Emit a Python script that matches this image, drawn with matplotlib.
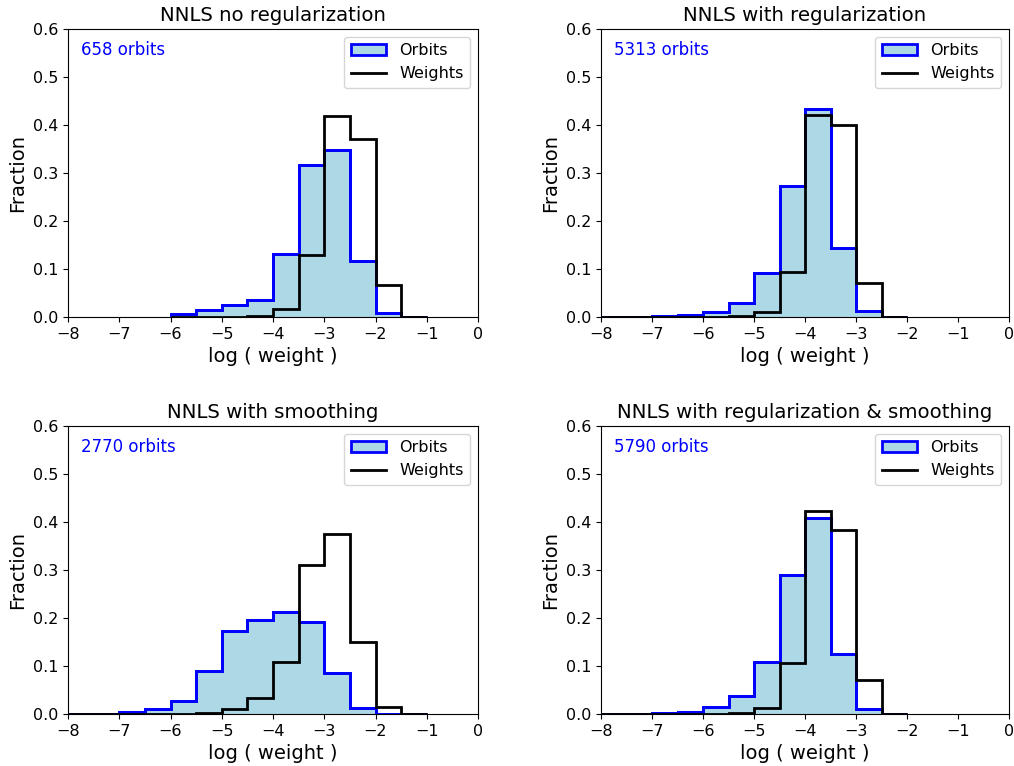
import numpy as np
import matplotlib
matplotlib.use("Agg")
import matplotlib.pyplot as plt

titles = ["NNLS no regularization", "NNLS with regularization",
          "NNLS with smoothing", "NNLS with regularization & smoothing"]
n_orbits = [658, 5313, 2770, 5790]

# bin edges (log weight) per panel
edges1 = np.arange(-6.0, -0.99, 0.5)
edges2 = np.arange(-8.0, -1.99, 0.5)
edges3 = np.arange(-8.0, -0.99, 0.5)
edges4 = np.arange(-8.0, -1.99, 0.5)

# panel 1: bins -6 .. -1
orbits1 = [0.0055, 0.014, 0.024, 0.036, 0.132, 0.316, 0.348, 0.116, 0.0076, 0.0]
weights1 = [0.0, 0.0, 0.0005, 0.003, 0.017, 0.130, 0.418, 0.370, 0.066, 0.0]
# panel 2: bins -8 .. -2
orbits2 = [0.0, 0.0, 0.002, 0.004, 0.011, 0.030, 0.091, 0.273, 0.433, 0.143, 0.012, 0.0]
weights2 = [0.0, 0.0, 0.0, 0.0, 0.0, 0.002, 0.010, 0.093, 0.421, 0.400, 0.071, 0.0]
# panel 3: bins -8 .. -1
orbits3 = [0.0, 0.0, 0.005, 0.011, 0.027, 0.089, 0.173, 0.196, 0.213, 0.192, 0.085, 0.012, 0.001, 0.0]
weights3 = [0.0, 0.0, 0.0, 0.0, 0.0, 0.002, 0.010, 0.033, 0.109, 0.310, 0.375, 0.149, 0.014, 0.0]
# panel 4: bins -8 .. -2
orbits4 = [0.0, 0.0, 0.002, 0.004, 0.015, 0.038, 0.108, 0.290, 0.408, 0.126, 0.010, 0.0]
weights4 = [0.0, 0.0, 0.0, 0.0, 0.0, 0.0015, 0.012, 0.107, 0.422, 0.383, 0.071, 0.0]

edges = [edges1, edges2, edges3, edges4]
orbits = [orbits1, orbits2, orbits3, orbits4]
weights = [weights1, weights2, weights3, weights4]

xticks = [-8, -7, -6, -5, -4, -3, -2, -1, 0]
yticks = [0.0, 0.1, 0.2, 0.3, 0.4, 0.5, 0.6]

W, H = 1014, 766
fig = plt.figure(figsize=(W / 100, H / 100), dpi=100)
boxes = [(68, 29, 478, 317), (601, 29, 1009, 317),
         (68, 426, 478, 714), (601, 426, 1009, 714)]

for i in range(4):
    x0, y0, x1, y1 = boxes[i]
    ax = fig.add_axes([x0 / W, 1 - y1 / H, (x1 - x0) / W, (y1 - y0) / H])
    ax.stairs(orbits[i], edges[i], fill=True, facecolor='lightblue',
              edgecolor='blue', linewidth=2, label='Orbits', zorder=2)
    ax.stairs(orbits[i], edges[i], fill=False, color='blue', linewidth=2, zorder=2.5)
    ax.stairs(weights[i], edges[i], fill=False, color='black', linewidth=2,
              label='Weights', zorder=3)
    ax.set_xlim(-8, 0)
    ax.set_ylim(0, 0.6)
    ax.set_xticks(xticks)
    ax.set_yticks(yticks)
    ax.tick_params(labelsize=11.5)
    ax.set_xlabel('log ( weight )', fontsize=14)
    ax.set_ylabel('Fraction', fontsize=14)
    ax.set_title(titles[i], fontsize=14.2)
    ax.text(-7.75, 0.556, f"{n_orbits[i]} orbits", color='blue', fontsize=12,
            va='center', ha='left')
    h, l = ax.get_legend_handles_labels()
    ax.legend(h, l, loc='upper right', fontsize=11.5, handlelength=2.25)

fig.savefig('out.png', dpi=100)
